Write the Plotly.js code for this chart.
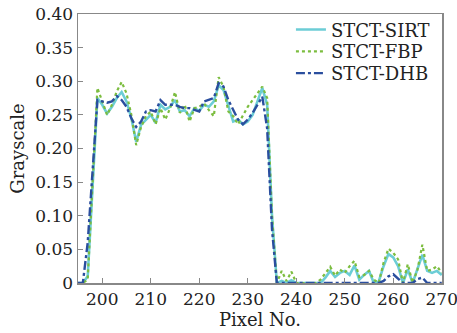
<!DOCTYPE html>
<html>
<head>
<meta charset="utf-8">
<script src="https://cdn.plot.ly/plotly-3.0.1.min.js"></script>
<style>html,body{margin:0;padding:0;background:#fff;}#chart{width:457px;height:333px;}</style>
</head>
<body>
<div id="chart"></div>
<script>
// Pixel positions 195..270
const pixels = [195,196,197,198,199,200,201,202,203,204,205,206,207,208,209,210,211,212,213,214,215,216,217,218,219,220,221,222,223,224,225,226,227,228,229,230,231,232,233,234,235,236,237,238,239,240,241,242,243,244,245,246,247,248,249,250,251,252,253,254,255,256,257,258,259,260,261,262,263,264,265,266,267,268,269,270];

const sirt = [0,0,0.01,0.14,0.275,0.265,0.252,0.262,0.275,0.284,0.27,0.245,0.21,0.235,0.243,0.25,0.238,0.265,0.258,0.262,0.272,0.255,0.257,0.248,0.26,0.256,0.265,0.262,0.27,0.294,0.287,0.262,0.24,0.243,0.236,0.24,0.25,0.27,0.29,0.265,0.1,0,0.003,0,0.004,0,0,0,0,0,0,0.008,0.018,0.009,0.015,0.018,0.012,0.026,0.005,0.012,0.018,0,0.002,0.025,0.043,0.038,0.025,0,0.02,0,0.02,0.042,0.018,0.015,0.018,0.012];

const fbp = [0,0,0.005,0.15,0.29,0.27,0.25,0.265,0.285,0.299,0.282,0.25,0.205,0.232,0.248,0.255,0.236,0.26,0.243,0.26,0.284,0.253,0.265,0.24,0.26,0.262,0.267,0.257,0.248,0.306,0.292,0.255,0.248,0.236,0.25,0.262,0.272,0.282,0.292,0.275,0.1,0,0.018,0.003,0.017,0,0,0,0,0,0.005,0.015,0.024,0.011,0.02,0.015,0.025,0.033,0.009,0.012,0.018,0.005,0,0.03,0.051,0.045,0.035,0,0.028,0,0.02,0.057,0.018,0.02,0.025,0.015];

const dhb = [0,0,0.06,0.16,0.272,0.27,0.268,0.27,0.278,0.272,0.262,0.245,0.232,0.24,0.255,0.257,0.255,0.272,0.265,0.265,0.265,0.262,0.26,0.26,0.258,0.255,0.27,0.272,0.275,0.297,0.292,0.272,0.258,0.243,0.236,0.243,0.253,0.265,0.277,0.23,0.08,0,0,0,0,0,0,0,0,0,0,0,0,0,0,0,0,0,0,0,0,0,0,0.003,0.01,0.013,0.006,0,0,0,0.006,0.008,0,0,0,0];

const seriesNames = ['STCT-SIRT','STCT-FBP','STCT-DHB'];
const xTicks = [200,210,220,230,240,250,260,270];
const yTickVals = [0,0.05,0.10,0.15,0.20,0.25,0.30,0.35,0.40];
const yTickText = ['0','0.05','0.10','0.15','0.20','0.25','0.30','0.35','0.40'];

const FONT = 'DejaVu Serif, Liberation Serif, serif';

const traces = [
  {x: pixels, y: sirt, name: seriesNames[0], mode: 'lines', legend: 'legend',
   line: {color: '#6ccdd6', width: 2.6, dash: 'solid'}},
  {x: pixels, y: fbp, name: seriesNames[1], mode: 'lines', legend: 'legend2',
   line: {color: '#7cbd3f', width: 2.2, dash: 'dot'}},
  {x: pixels, y: dhb, name: seriesNames[2], mode: 'lines', legend: 'legend3',
   line: {color: '#2a4e9e', width: 2.4, dash: 'dashdot'}}
];

const legBase = {xanchor: 'left', yanchor: 'middle', bgcolor: 'rgba(0,0,0,0)', borderwidth: 0,
  font: {family: FONT, size: 18, color: '#222'}, x: 0.585};

const layout = {
  width: 457, height: 333,
  margin: {l: 78, r: 15, t: 11, b: 50},
  paper_bgcolor: '#fff', plot_bgcolor: '#fff',
  font: {family: FONT, color: '#222'},
  showlegend: true,
  legend: Object.assign({}, legBase, {y: 0.941}),
  legend2: Object.assign({}, legBase, {y: 0.860}),
  legend3: Object.assign({}, legBase, {y: 0.779}),
  xaxis: {
    range: [195, 270.05], tickvals: xTicks, ticks: 'inside', ticklen: 5, tickcolor: '#888', tickwidth: 1.2,
    showline: true, mirror: true, linecolor: '#888', linewidth: 1.5, showgrid: false, zeroline: false,
    ticklabeloverflow: 'allow', automargin: false,
    tickfont: {family: FONT, size: 17, color: '#222'},
    title: {text: 'Pixel No.', font: {family: FONT, size: 18, color: '#222'}, standoff: 5}
  },
  yaxis: {
    range: [0, 0.40], tickvals: yTickVals, ticktext: yTickText, ticks: 'inside', ticklen: 5, tickcolor: '#888', tickwidth: 1.2,
    showline: true, mirror: true, linecolor: '#888', linewidth: 1.5, showgrid: false, zeroline: false,
    automargin: false,
    tickfont: {family: FONT, size: 17, color: '#222'},
    title: {text: 'Grayscale', font: {family: FONT, size: 18, color: '#222'}, standoff: 6}
  }
};

Plotly.newPlot('chart', traces, layout, {displayModeBar: false, staticPlot: true});
</script>
</body>
</html>
